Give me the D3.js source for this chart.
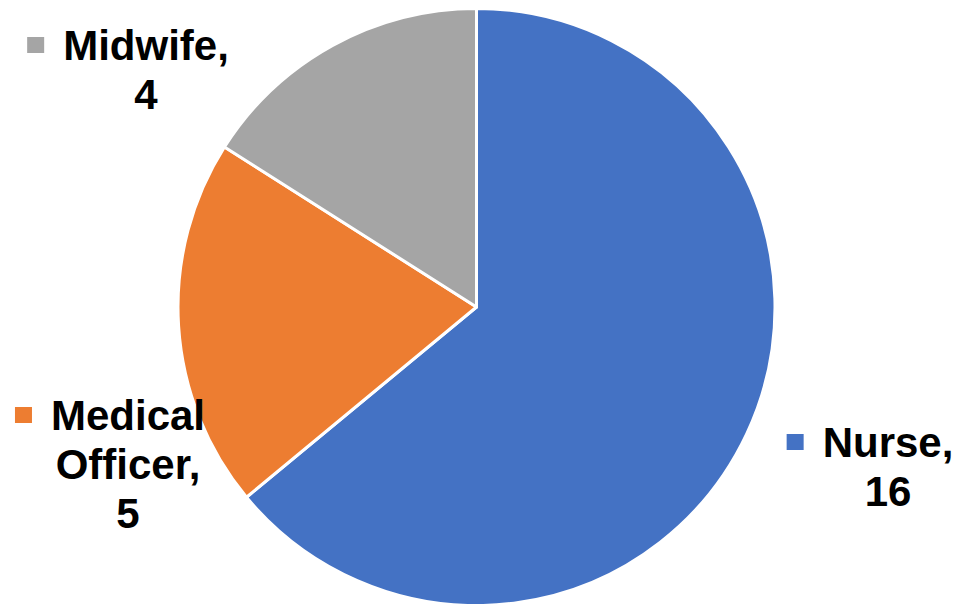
<!DOCTYPE html>
<html>
<head>
<meta charset="utf-8">
<script src="https://cdn.jsdelivr.net/npm/d3@7"></script>
<style>
  html, body { margin: 0; padding: 0; background: #fff; }
  svg { display: block; }
</style>
</head>
<body>
<div id="chart"></div>
<script>
// data
const categories = ["Nurse", "Medical Officer", "Midwife"];
const values = [16, 5, 4];
const colors = ["#4472C4", "#ED7D31", "#A5A5A5"];

// label lines (as shown in the picture)
const labelLines = [
  ["Nurse,", "16"],
  ["Medical", "Officer,", "5"],
  ["Midwife,", "4"]
];

const width = 965, height = 604;
const cx = 476.5, cy = 307, radius = 298.5;

// label anchor (center x, first baseline) — layout only
const labelLayout = [
  { x: 888, y: 457 },
  { x: 128, y: 430 },
  { x: 146, y: 60 }
];

const data = categories.map((c, i) => ({ name: c, value: values[i], color: colors[i], lines: labelLines[i], pos: labelLayout[i] }));

const svg = d3.select("#chart").append("svg")
  .attr("width", width)
  .attr("height", height);

const pie = d3.pie().sort(null).value(d => d.value);
const arc = d3.arc().innerRadius(0).outerRadius(radius);

const g = svg.append("g").attr("transform", `translate(${cx},${cy})`);

g.selectAll("path.slice")
  .data(pie(data))
  .join("path")
  .attr("class", "slice")
  .attr("d", arc)
  .attr("fill", d => d.data.color)
  .attr("stroke", "#fff")
  .attr("stroke-width", 3)
  .attr("stroke-linejoin", "round");

// data labels
const fontSize = 42, lineHeight = 49;
const labels = svg.selectAll("g.label")
  .data(data)
  .join("g")
  .attr("class", "label");

labels.each(function(d) {
  const lg = d3.select(this);
  const text = lg.append("text")
    .attr("text-anchor", "middle")
    .attr("font-family", "Liberation Sans, Arial, sans-serif")
    .attr("font-weight", "bold")
    .attr("font-size", fontSize)
    .attr("fill", "#000");
  d.lines.forEach((line, i) => {
    text.append("tspan")
      .attr("x", d.pos.x)
      .attr("y", d.pos.y + i * lineHeight)
      .text(line);
  });
  const firstW = text.select("tspan").node().getComputedTextLength();
  const left = d.pos.x - firstW / 2;
  lg.append("rect")
    .attr("x", left - 36)
    .attr("y", d.pos.y - 23)
    .attr("width", 17)
    .attr("height", 16)
    .attr("fill", d.color);
});
</script>
</body>
</html>
